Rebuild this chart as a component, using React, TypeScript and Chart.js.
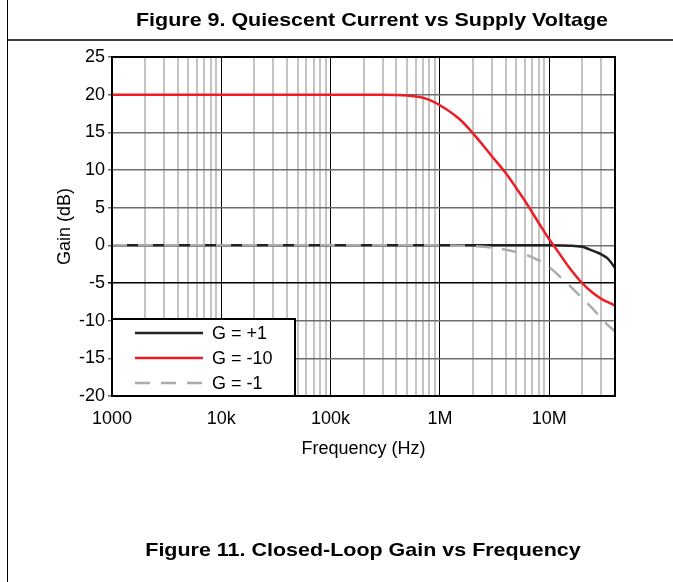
import React, { useEffect, useRef } from 'react';
import { Chart, registerables } from 'chart.js';

Chart.register(...registerables);

// ---- text ----
const topTitle = 'Figure 9. Quiescent Current vs Supply Voltage';
const bottomTitle = 'Figure 11. Closed-Loop Gain vs Frequency';
const xAxisTitle = 'Frequency (Hz)';
const yAxisTitle = 'Gain (dB)';

// ---- axes ----
const xMin = 1e3;
const xMax = 4e7;
const decadeValues = [1e3, 1e4, 1e5, 1e6, 1e7];
const decadeLabels = ['1000', '10k', '100k', '1M', '10M'];
const yMin = -20;
const yMax = 25;
const yStep = 5;

// ---- series ----
const seriesLabels = ['G = +1', 'G = -10', 'G = -1'];

const gPlus1Freq = [1e3, 1e4, 1e5, 1e6, 5e6, 1e7, 1.5e7, 2e7, 2.3e7, 2.7e7, 3e7, 3.4e7, 3.7e7, 4e7];
const gPlus1Gain = [0, 0, 0, 0, 0, 0, -0.05, -0.2, -0.5, -0.9, -1.2, -1.7, -2.3, -3.0];

const gMinus10Freq = [1e3, 1e4, 1e5, 3e5, 5e5, 7e5, 8e5, 1e6, 1.5e6, 2e6, 3e6, 4e6, 5e6, 6e6, 8e6, 1e7, 1.2e7, 1.5e7, 2e7, 2.5e7, 3e7, 4e7];
const gMinus10Gain = [20, 20, 20, 20, 19.9, 19.6, 19.3, 18.6, 16.8, 14.9, 11.8, 9.6, 7.6, 5.9, 3.0, 0.8, -0.8, -2.8, -5.0, -6.3, -7.1, -8.0];

const gMinus1Freq = [1e3, 1e4, 1e5, 1e6, 2e6, 3e6, 4e6, 5e6, 6e6, 8e6, 1e7, 1.2e7, 1.5e7, 2e7, 2.5e7, 3e7, 3.5e7, 4e7];
const gMinus1Gain = [0, 0, 0, 0, -0.1, -0.3, -0.6, -0.9, -1.2, -2.0, -2.9, -3.9, -5.2, -7.0, -8.4, -9.7, -10.7, -11.4];

const FONT = '"Liberation Sans", Arial, sans-serif';

const toPoints = (xs: number[], ys: number[]) => xs.map((x, i) => ({ x, y: ys[i] }));
const isDecade = (v: number) => Math.abs(Math.log10(v) - Math.round(Math.log10(v))) < 1e-9;

const drawWideText = (ctx: CanvasRenderingContext2D, text: string, cx: number, cy: number, sx: number) => {
  ctx.save();
  ctx.translate(cx, cy);
  ctx.scale(sx, 1);
  ctx.fillText(text, 0, 0);
  ctx.restore();
};

const framePlugin = {
  id: 'frame',
  beforeDraw(chart: any) {
    const ctx = chart.ctx;
    ctx.save();
    ctx.fillStyle = '#fff';
    ctx.fillRect(0, 0, chart.width, chart.height);
    ctx.strokeStyle = '#000';
    ctx.lineWidth = 1;
    ctx.beginPath();
    ctx.moveTo(7.5, 0);
    ctx.lineTo(7.5, chart.height);
    ctx.stroke();
    ctx.lineWidth = 1.5;
    ctx.beginPath();
    ctx.moveTo(7, 40);
    ctx.lineTo(chart.width, 40);
    ctx.stroke();
    ctx.fillStyle = '#000';
    ctx.font = `bold 19px ${FONT}`;
    ctx.textAlign = 'center';
    ctx.textBaseline = 'middle';
    drawWideText(ctx, topTitle, 372, 21, 1.13);
    drawWideText(ctx, bottomTitle, 363, 551, 1.13);
    ctx.restore();
  },
  afterDatasetsDraw(chart: any) {
    const { ctx, chartArea } = chart;
    ctx.save();
    ctx.strokeStyle = '#000';
    ctx.lineWidth = 2;
    ctx.strokeRect(chartArea.left, chartArea.top, chartArea.right - chartArea.left, chartArea.bottom - chartArea.top);
    ctx.restore();
  },
  afterDraw(chart: any) {
    const { ctx, chartArea } = chart;
    const left = chartArea.left;
    const bottom = chartArea.bottom;
    const boxW = 183;
    const boxH = 77;
    ctx.save();
    ctx.fillStyle = '#fff';
    ctx.fillRect(left, bottom - boxH, boxW, boxH);
    ctx.strokeStyle = '#000';
    ctx.lineWidth = 2;
    ctx.strokeRect(left, bottom - boxH, boxW, boxH);
    const rows = [bottom - 63, bottom - 38, bottom - 13];
    chart.data.datasets.forEach((ds: any, i: number) => {
      const y = rows[i];
      ctx.strokeStyle = ds.borderColor;
      ctx.lineWidth = ds.borderWidth;
      ctx.setLineDash(ds.borderDash || []);
      ctx.beginPath();
      ctx.moveTo(left + 23, y);
      ctx.lineTo(left + 91, y);
      ctx.stroke();
      ctx.setLineDash([]);
      ctx.fillStyle = '#000';
      ctx.font = `18px ${FONT}`;
      ctx.textAlign = 'left';
      ctx.textBaseline = 'middle';
      ctx.fillText(ds.label, left + 100, y + 1);
    });
    ctx.restore();
  },
};

export default function App() {
  const canvasRef = useRef<HTMLCanvasElement | null>(null);

  useEffect(() => {
    if (!canvasRef.current) return;
    const chart = new Chart(canvasRef.current, {
      type: 'line',
      data: {
        datasets: [
          {
            label: seriesLabels[0],
            data: toPoints(gPlus1Freq, gPlus1Gain),
            borderColor: '#222222',
            borderWidth: 2.5,
            pointRadius: 0,
            cubicInterpolationMode: 'monotone',
            order: 2,
          },
          {
            label: seriesLabels[1],
            data: toPoints(gMinus10Freq, gMinus10Gain),
            borderColor: '#ee1c25',
            borderWidth: 2.5,
            pointRadius: 0,
            cubicInterpolationMode: 'monotone',
            order: 1,
          },
          {
            label: seriesLabels[2],
            data: toPoints(gMinus1Freq, gMinus1Gain),
            borderColor: '#ababab',
            borderWidth: 2.5,
            borderDash: [15, 11],
            pointRadius: 0,
            cubicInterpolationMode: 'monotone',
            order: 0,
          },
        ],
      },
      options: {
        responsive: false,
        animation: false,
        events: [],
        layout: { padding: { left: 0, top: 57, right: 58, bottom: 0 } },
        plugins: { legend: { display: false }, tooltip: { enabled: false } },
        scales: {
          x: {
            type: 'logarithmic',
            min: xMin,
            max: xMax,
            afterFit(scale: any) {
              scale.height = 186;
            },
            afterBuildTicks(scale: any) {
              const ticks: any[] = [];
              for (const d of decadeValues) {
                for (let m = 1; m <= 9; m++) {
                  const v = m * d;
                  if (v >= xMin && v <= xMax) ticks.push({ value: v });
                }
              }
              scale.ticks = ticks;
            },
            border: { display: false },
            grid: {
              drawTicks: false,
              color: (c: any) => (c.tick && isDecade(c.tick.value) ? '#000000' : '#c4c4c4'),
              lineWidth: (c: any) => (c.tick && isDecade(c.tick.value) ? 1 : 2),
            },
            ticks: {
              autoSkip: false,
              maxRotation: 0,
              padding: 12,
              color: '#000',
              font: { family: FONT, size: 18 },
              callback: (value: any) => {
                const idx = decadeValues.findIndex((d) => Math.abs(d - Number(value)) < 1e-6 * d);
                return idx >= 0 ? decadeLabels[idx] : '';
              },
            },
            title: {
              display: true,
              text: xAxisTitle,
              color: '#000',
              font: { family: FONT, size: 18 },
              padding: { top: 0, bottom: 122 },
            },
          },
          y: {
            type: 'linear',
            min: yMin,
            max: yMax,
            afterFit(scale: any) {
              scale.width = 112;
            },
            border: { display: false },
            grid: {
              drawTicks: true,
              tickLength: 4,
              color: (c: any) => (c.tick && c.tick.value === -5 ? '#000000' : '#6e6e6e'),
              lineWidth: 1.5,
            },
            ticks: {
              stepSize: yStep,
              padding: 3,
              color: '#000',
              font: { family: FONT, size: 18 },
            },
            title: {
              display: true,
              text: yAxisTitle,
              color: '#000',
              font: { family: FONT, size: 18 },
              padding: { top: 54, bottom: 0 },
            },
          },
        },
      },
      plugins: [framePlugin],
    } as any);
    return () => chart.destroy();
  }, []);

  return (
    <div style={{ position: 'absolute', left: 0, top: 0, width: 673, height: 582 }}>
      <canvas ref={canvasRef} width={673} height={582} style={{ width: 673, height: 582, display: 'block' }} />
    </div>
  );
}
